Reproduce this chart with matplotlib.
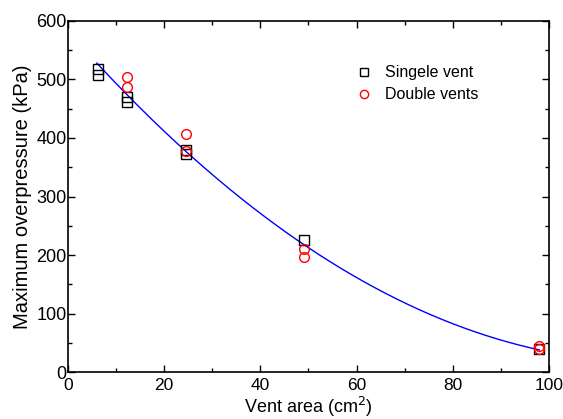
import matplotlib
matplotlib.use("Agg")
import matplotlib.pyplot as plt
import numpy as np
from matplotlib.ticker import MultipleLocator

plt.rcParams['font.family'] = ['Liberation Sans', 'DejaVu Sans']

single_x = [6.2, 6.2, 12.3, 12.3, 24.5, 24.5, 49, 98]
single_y = [518, 508, 470, 461, 380, 373, 225, 40]
double_x = [12.3, 12.3, 24.5, 24.5, 49, 49, 98, 98]
double_y = [505, 487, 406, 377, 210, 196, 45, 40]

fit_coef = [0.0384, -9.32, 582.5]  # quadratic fit
fit_range = [6.0, 98.0]

fig = plt.figure(figsize=(5.63, 4.19), dpi=100)
ax = fig.add_axes([0.1208, 0.112, 0.975 - 0.1208, 0.95 - 0.112])

xf = np.linspace(fit_range[0], fit_range[1], 200)
ax.plot(xf, np.polyval(fit_coef, xf), color='blue', lw=1.0)
ax.plot(single_x, single_y, 's', mfc='none', mec='black', ms=6.5, mew=1.0, label='Singele vent', linestyle='none')
ax.plot(double_x, double_y, 'o', mfc='none', mec='red', ms=7, mew=1.0, label='Double vents', linestyle='none')

ax.set_xlim(0, 100)
ax.set_ylim(0, 600)
ax.xaxis.set_major_locator(MultipleLocator(20))
ax.xaxis.set_minor_locator(MultipleLocator(10))
ax.yaxis.set_major_locator(MultipleLocator(100))
ax.yaxis.set_minor_locator(MultipleLocator(50))
ax.tick_params(which='both', direction='in', top=True, right=True, labelsize=13)
ax.tick_params(axis='x', pad=4.5, labelsize=12.5)
ax.tick_params(axis='y', pad=1)
ax.tick_params(which='major', length=5, width=1)
ax.tick_params(which='minor', length=3, width=1)
for s in ax.spines.values():
    s.set_linewidth(1.2)

ax.set_xlabel('Vent area (cm$^2$)', fontsize=13, labelpad=1)
ax.set_ylabel('Maximum overpressure (kPa)', fontsize=14.5, labelpad=3)

ax.legend(loc='upper left', bbox_to_anchor=(0.56, 0.915), frameon=False, fontsize=11.5,
          handletextpad=0.6, labelspacing=0.45, handlelength=1.5, markerscale=0.85)

fig.savefig('out.png', dpi=100)
